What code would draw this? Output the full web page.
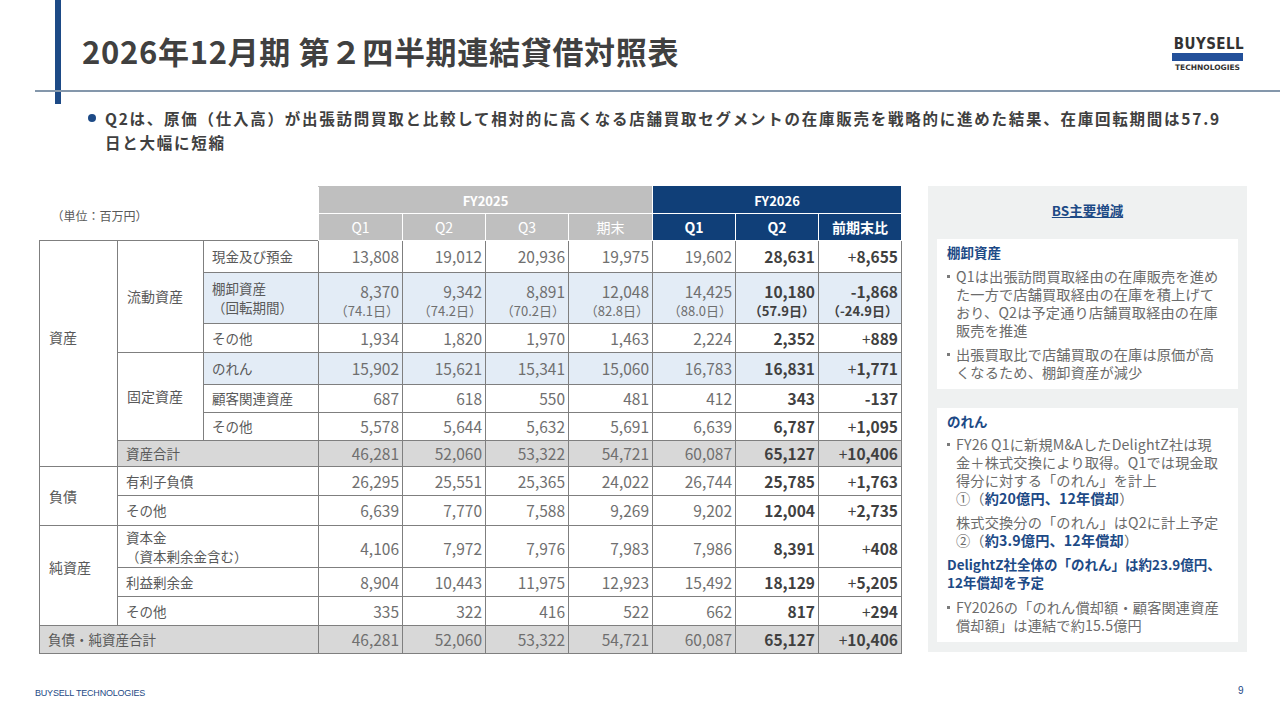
<!DOCTYPE html>
<html lang="ja">
<head>
<meta charset="UTF-8">
<title>2026年12月期 第２四半期連結貸借対照表</title>
<script src="https://cdn.jsdelivr.net/npm/chart.js@4.4.1/dist/chart.umd.min.js"></script>
<style>
  html, body { margin: 0; padding: 0; }
  body { width: 1280px; height: 720px; position: relative; overflow: hidden; background: #fff;
         font-family: "Noto Sans CJK JP", "Noto Sans", sans-serif; color: #595959; }
  .bar { position: absolute; left: 55px; top: 0; width: 6px; height: 104px; background: #1d4a86; }
  .rule { position: absolute; left: 35px; right: 0; top: 90px; height: 2px; background: #8497ab; }
  .title { position: absolute; left: 82px; top: 29px; font-size: 31px; font-weight: 700; color: #404040;
           letter-spacing: 0.7px; line-height: 44px; }
  .logo { position: absolute; left: 1170px; top: 36px; width: 75px; text-align: center; }
  .logo .b { font: 900 15px "DejaVu Sans", sans-serif; color: #333; letter-spacing: 0.5px; line-height: 16px; transform: scaleX(0.9); }
  .logo .s { height: 8px; background: #23509a; margin: 1px 2px 2px 2px; }
  .logo .t { font: 700 7.5px "DejaVu Sans", sans-serif; color: #333; letter-spacing: 0px; }
  .lead { position: absolute; left: 88px; top: 106px; width: 1160px; font-size: 15.5px; font-weight: 700;
          color: #404040; line-height: 24px; letter-spacing: 1.75px; white-space: nowrap; }
  .lead .dot { position: absolute; left: 0; top: 8px; width: 8px; height: 8px; border-radius: 50%; background: #1d4a86; }
  .lead .txt { margin-left: 17px; }
  #bs { position: absolute; left: 39px; top: 186px; border-collapse: collapse; table-layout: fixed; }
  #bs td { padding: 0; border: 1px solid #7f7f7f; font-size: 15.5px; line-height: 17px; }
  #bs td.lab { font-size: 13.5px; padding-left: 8px; text-align: left; }
  #bs td.grp { font-size: 14px; padding-left: 9px; text-align: left; }
  #bs td.num { text-align: right; padding-right: 3px; color: #6f6f6f; }
  #bs td.q2 { font-weight: 700; color: #404040; }
  #bs td.df { font-weight: 700; color: #404040; }
  #bs td.df .pl { font-weight: 400; }
  #bs tr.two td.num { line-height: 22px; padding-top: 2px; }
  #bs tr.two td.lab { line-height: 19px; }
  #bs .sub { font-size: 13px; display: block; line-height: 17px; }
  #bs tr.blue td.c { background: #e3ecf6; }
  #bs tr.gray td.c { background: #d8d8d8; }
  #bs td.h25 { background: #bfbfbf; color: #fff; text-align: center; border: 1px solid #fff; border-top-color: #bfbfbf; }
  #bs td.h26 { background: #103f78; color: #fff; text-align: center; border: 1px solid #fff; border-top-color: #103f78; }
  #bs td.hy { font-weight: 700; font-size: 13px; }
  #bs td.hq { font-size: 14px; }
  #bs td.h26.hq { font-weight: 700; }
  #bs td.unit { border: none; font-size: 12px; vertical-align: bottom; padding: 0 0 16px 12px; color: #595959; }
  .panel { position: absolute; left: 928px; top: 186px; width: 319px; height: 466px; background: #eff1f1; }
  .panel .ttl { position: absolute; left: 0; top: 14px; width: 100%; text-align: center; font-size: 13.5px;
                font-weight: 700; color: #1d4a86; text-decoration: underline; }
  .box { position: absolute; left: 9px; width: 291px; background: #fff; padding: 4px 0 0 10px; }
  .box h4 { margin: 0; font-size: 13.5px; font-weight: 700; color: #1d4a86; line-height: 18px; white-space: nowrap; }
  .box ul { margin: 0; padding: 0; list-style: none; }
  .box li { position: relative; padding-left: 9px; font-size: 14.2px; line-height: 18px; color: #6b6b6b;
            letter-spacing: 0.15px; white-space: nowrap; }
  .box li::before { content: ""; position: absolute; left: 0; top: 8px; width: 3px; height: 3px; background: #7a7a7a; }
  .box li b { color: #1d4a86; }
  .foot { position: absolute; left: 35px; top: 688px; font: 9px "Liberation Sans", sans-serif; color: #1d4a86; letter-spacing: -0.2px; }
  .page { position: absolute; left: 1238px; top: 685px; font: 10px "Liberation Sans", sans-serif; color: #1d4a86; }
</style>
</head>
<body>
<div class="bar"></div>
<div class="rule"></div>
<div class="title">2026年12月期 第２四半期連結貸借対照表</div>
<div class="logo"><div class="b">BUYSELL</div><div class="s"></div><div class="t">TECHNOLOGIES</div></div>
<div class="lead"><span class="dot"></span><div class="txt">Q2は、原価（仕入高）が出張訪問買取と比較して相対的に高くなる店舗買取セグメントの在庫販売を戦略的に進めた結果、在庫回転期間は57.9<br>日と大幅に短縮</div></div>

<table id="bs"></table>

<div class="panel">
  <div class="ttl">BS主要増減</div>
  <div class="box" style="top:53px;height:146px;">
    <h4>棚卸資産</h4>
    <ul style="margin-top:6px;">
      <li>Q1は出張訪問買取経由の在庫販売を進め<br>た一方で店舗買取経由の在庫を積上げて<br>おり、Q2は予定通り店舗買取経由の在庫<br>販売を推進</li>
      <li style="margin-top:6px;">出張買取比で店舗買取の在庫は原価が高<br>くなるため、棚卸資産が減少</li>
    </ul>
  </div>
  <div class="box" style="top:222px;height:230px;">
    <h4>のれん</h4>
    <ul style="margin-top:5px;">
      <li>FY26 Q1に新規M&amp;AしたDelightZ社は現<br>金＋株式交換により取得。Q1では現金取<br>得分に対する「のれん」を計上<br>①（<b>約20億円、12年償却</b>）<br><span style="display:block;margin-top:6px;">株式交換分の「のれん」はQ2に計上予定<br>②（<b>約3.9億円、12年償却</b>）</span></li>
    </ul>
    <h4 style="margin-top:6px;">DelightZ社全体の「のれん」は約23.9億円、<br>12年償却を予定</h4>
    <ul style="margin-top:7px;">
      <li>FY2026の「のれん償却額・顧客関連資産<br>償却額」は連結で約15.5億円</li>
    </ul>
  </div>
</div>

<div class="foot">BUYSELL TECHNOLOGIES</div>
<div class="page">9</div>

<script>
// column headers
const fyLabels = ['FY2025', 'FY2026'];
const fy2025Cols = ['Q1', 'Q2', 'Q3', '期末'];
const fy2026Cols = ['Q1', 'Q2', '前期末比'];

// row items (百万円)
const items = ['現金及び預金', '棚卸資産', 'その他', 'のれん', '顧客関連資産', 'その他', '資産合計',
               '有利子負債', 'その他', '資本金', '利益剰余金', 'その他', '負債・純資産合計'];

const fy25q1 = [13808, 8370, 1934, 15902, 687, 5578, 46281, 26295, 6639, 4106, 8904, 335, 46281];
const fy25q2 = [19012, 9342, 1820, 15621, 618, 5644, 52060, 25551, 7770, 7972, 10443, 322, 52060];
const fy25q3 = [20936, 8891, 1970, 15341, 550, 5632, 53322, 25365, 7588, 7976, 11975, 416, 53322];
const fy25end = [19975, 12048, 1463, 15060, 481, 5691, 54721, 24022, 9269, 7983, 12923, 522, 54721];
const fy26q1 = [19602, 14425, 2224, 16783, 412, 6639, 60087, 26744, 9202, 7986, 15492, 662, 60087];
const fy26q2 = [28631, 10180, 2352, 16831, 343, 6787, 65127, 25785, 12004, 8391, 18129, 817, 65127];
const vsPrevEnd = [8655, -1868, 889, 1771, -137, 1095, 10406, 1763, 2735, 408, 5205, 294, 10406];

// inventory turnover days (Q1, Q2, Q3, 期末, FY26 Q1, FY26 Q2, 前期末比)
const turnoverDays = [74.1, 74.2, 70.2, 82.8, 88.0, 57.9, -24.9];

const rowHeights = [32, 51, 29, 32, 28, 28, 26, 29, 30, 42, 29, 29, 28];
const colWidths = [78, 86, 115, 84, 83, 83, 84, 83, 83, 83];

const fmt = v => v.toLocaleString('en-US');
const fmtDiff = v => v >= 0 ? '<span class="pl">+</span>' + fmt(v) : '-' + fmt(-v);

const tbl = document.getElementById('bs');
let html = '<colgroup>' + colWidths.map(w => '<col style="width:' + w + 'px">').join('') + '</colgroup>';
html += '<tr style="height:27px"><td class="unit" colspan="3" rowspan="2">（単位：百万円）</td>' +
        '<td class="h25 hy" colspan="4">' + fyLabels[0] + '</td><td class="h26 hy" colspan="3">' + fyLabels[1] + '</td></tr>';
html += '<tr style="height:27px">' + fy2025Cols.map(c => '<td class="h25 hq">' + c + '</td>').join('') +
        fy2026Cols.map(c => '<td class="h26 hq">' + c + '</td>').join('') + '</tr>';

// left-side label cells per row (with spans)
const leftCells = [
  '<td class="grp" rowspan="7" style="padding-bottom:32px">資産</td><td class="grp" rowspan="3">流動資産</td><td class="lab c">' + items[0] + '</td>',
  '<td class="lab c">' + items[1] + '<br>（回転期間）</td>',
  '<td class="lab c">' + items[2] + '</td>',
  '<td class="grp" rowspan="3">固定資産</td><td class="lab c">' + items[3] + '</td>',
  '<td class="lab c">' + items[4] + '</td>',
  '<td class="lab c">' + items[5] + '</td>',
  '<td class="lab c" colspan="2">' + items[6] + '</td>',
  '<td class="grp" rowspan="2">負債</td><td class="lab c" colspan="2">' + items[7] + '</td>',
  '<td class="lab c" colspan="2">' + items[8] + '</td>',
  '<td class="grp" rowspan="3" style="padding-bottom:16px">純資産</td><td class="lab c" colspan="2">' + items[9] + '<br>（資本剰余金含む）</td>',
  '<td class="lab c" colspan="2">' + items[10] + '</td>',
  '<td class="lab c" colspan="2">' + items[11] + '</td>',
  '<td class="lab c" colspan="3">' + items[12] + '</td>'
];
const rowClass = ['', 'blue two', '', 'blue', '', '', 'gray', '', '', 'two', '', '', 'gray'];

for (let i = 0; i < items.length; i++) {
  const vals = [fy25q1[i], fy25q2[i], fy25q3[i], fy25end[i], fy26q1[i], fy26q2[i]];
  let row = '<tr class="' + rowClass[i] + '" style="height:' + rowHeights[i] + 'px">' + leftCells[i];
  vals.forEach((v, j) => {
    let cell = fmt(v);
    if (i === 1) cell += '<span class="sub">（' + turnoverDays[j].toFixed(1) + '日）</span>';
    row += '<td class="num c' + (j === 5 ? ' q2' : '') + '">' + cell + '</td>';
  });
  let d = fmtDiff(vsPrevEnd[i]);
  if (i === 1) d += '<span class="sub">（' + turnoverDays[6].toFixed(1) + '日）</span>';
  row += '<td class="num c df">' + d + '</td></tr>';
  html += row;
}
tbl.innerHTML = html;
</script>
</body>
</html>
